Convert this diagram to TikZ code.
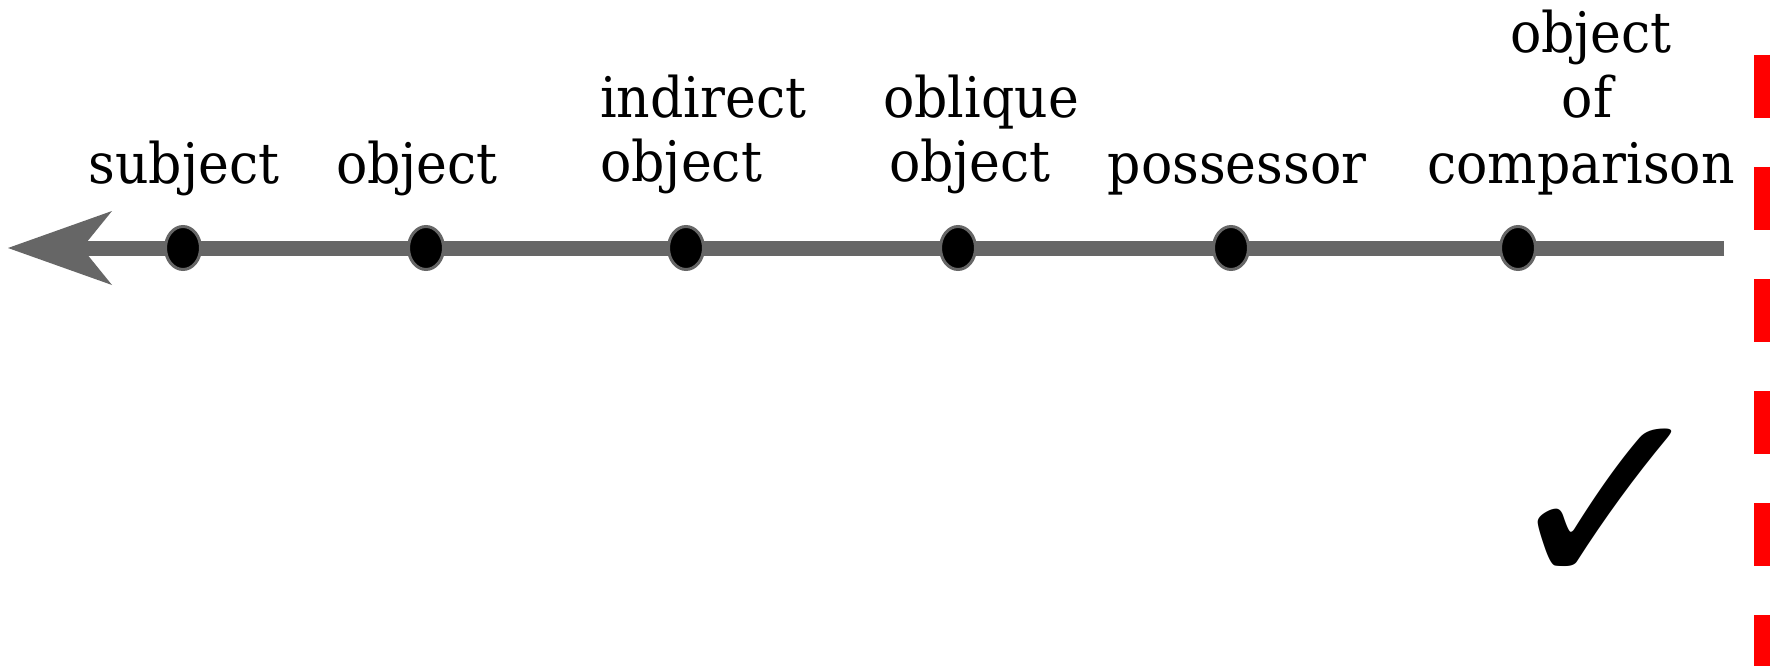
\documentclass[tikz,border=0pt]{standalone}
\usepackage{fontspec}
\setmainfont{DejaVu Serif}[FakeStretch=0.93]
\newfontfamily\symfont{DejaVu Sans}
\usetikzlibrary{arrows.meta,shapes.geometric}
\definecolor{axisgray}{HTML}{666666}
\definecolor{limitred}{HTML}{FF0000}
\tikzset{
  lbl/.style={anchor=base, inner sep=0pt, font=\fontsize{56}{65}\selectfont},
  dot/.style={ellipse, fill=black, draw=axisgray, line width=3pt, minimum width=35pt, minimum height=43pt, inner sep=0pt},
  axis/.style={draw=axisgray, line width=15pt, -{Stealth[length=104pt, width=74pt, inset=30pt, line width=0pt]}},
  limit/.style={draw=limitred, line width=16pt, dash pattern=on 63pt off 49pt},
}
\begin{document}
\begin{tikzpicture}[x=1pt, y=-1pt]
\useasboundingbox (0,0) rectangle (1792,666);
\fill[white] (0,0) rectangle (1792,666);
% axis
\coordinate (axR) at (1724,248);
\coordinate (axL) at (8,248);
\draw[axis] (axR) -- (axL);
% dots
\node[dot] (d1) at (183,248) {};
\node[dot] (d2) at (426,248) {};
\node[dot] (d3) at (686,248) {};
\node[dot] (d4) at (958,248) {};
\node[dot] (d5) at (1231,248) {};
\node[dot] (d6) at (1518,248) {};
% labels
\node[lbl] (l1) at (184,183) {subject};
\node[lbl] (l2) at (417,183) {object};
\node[lbl, anchor=base west] (l3a) at (600,118) {indirect};
\node[lbl, anchor=base west] (l3b) at (600,182) {object};
\node[lbl] (l4a) at (981,118) {oblique};
\node[lbl] (l4b) at (970,182) {object};
\node[lbl] (l5) at (1237,183) {possessor};
\node[lbl] (l6a) at (1591,53) {object};
\node[lbl] (l6b) at (1587,118) {of};
\node[lbl] (l6c) at (1581,183) {comparison};
% limit
\coordinate (limT) at (1762,55);
\coordinate (limB) at (1762,680);
\draw[limit] (limT) -- (limB);
% check mark
\node[inner sep=0pt, font=\symfont\fontsize{258}{258}\selectfont] (chk) at (1608,510) {✓};
\end{tikzpicture}
\end{document}
